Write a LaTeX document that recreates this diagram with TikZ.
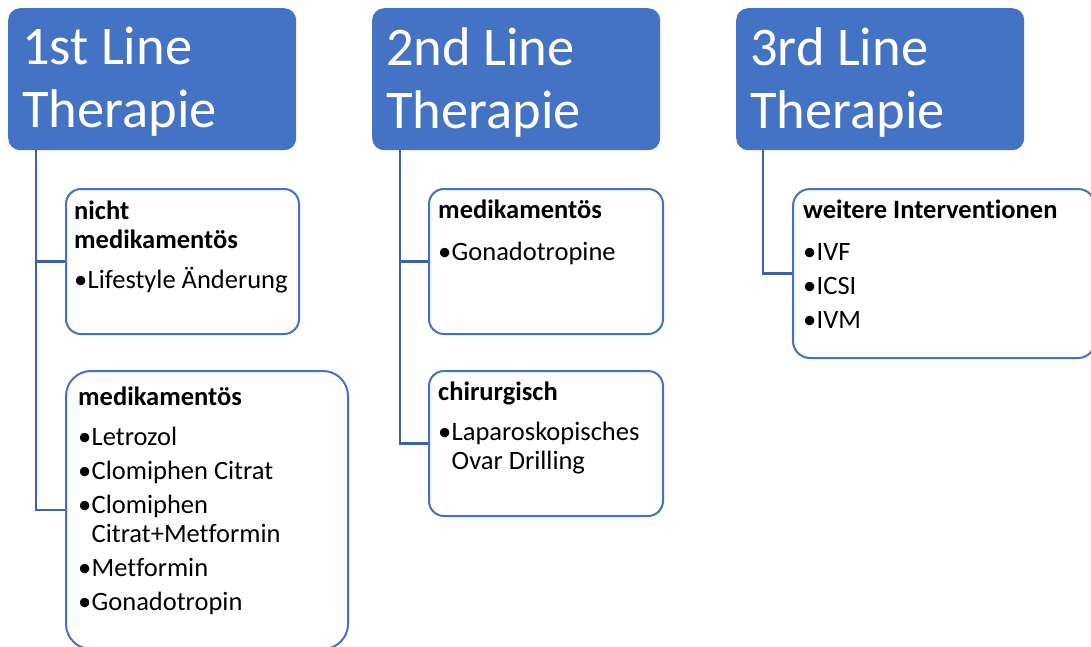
\documentclass[tikz,border=0pt]{standalone}
\usepackage{fontspec}
\setmainfont[Ligatures=NoCommon]{Carlito}
\usetikzlibrary{positioning}
\definecolor{headblue}{HTML}{4472C4}
\definecolor{linkblue}{HTML}{3B62AA}
\newcommand*{\headfont}{\fontsize{54.5}{63}\selectfont}
\newcommand*{\bodyfont}{\fontsize{26.5}{29}\selectfont}
\newcommand*{\bul}{\makebox[13.5pt][l]{\textbullet}}
\newcommand*{\hang}{\hspace*{13.5pt}}
\tikzset{
  head/.style={draw=none, fill=headblue, rounded corners=12pt, anchor=north west,
    inner sep=0pt, minimum width=288pt, minimum height=142pt},
  headtext/.style={anchor=north west, inner sep=0pt, align=left, text=white, font=\headfont},
  leaf/.style={draw=headblue, line width=2pt, fill=white, rounded corners=15pt,
    anchor=north west, inner sep=0pt},
  leaftext/.style={anchor=north west, inner sep=0pt, align=left, font=\bodyfont},
  link/.style={draw=linkblue, line width=2.5pt}
}

\begin{document}
\begin{tikzpicture}[x=1pt, y=-1pt]
    \path [use as bounding box] (0,0) rectangle (1091,646);

    % column headers
    \node [head] (h1) at (8,8) {};
    \node [head] (h2) at (372,8) {};
    \node [head] (h3) at (736,8) {};
    \node [headtext] at (22,27) {1st Line\\Therapie};
    \node [headtext] at (386,27) {2nd Line\\Therapie};
    \node [headtext] at (750,27) {3rd Line\\Therapie};

    % 1st line
    \node [leaf, minimum width=233pt, minimum height=145pt] (a1) at (65,188) {};
    \node [leaf, rounded corners=25pt, minimum width=282pt, minimum height=278pt] (b1) at (65,370) {};
    \node [leaftext] (a1txt) at (74,201)
        {\textbf{nicht}\\\textbf{medikamentös}\\[11pt]\bul Lifestyle Änderung};
    \node [leaftext] (b1txt) at (78,387)
        {\textbf{medikamentös}\\[11pt]\bul Letrozol\\[5pt]\bul Clomiphen Citrat\\[5pt]%
         \bul Clomiphen\\\hang Citrat+Metformin\\[5pt]\bul Metformin\\[5pt]\bul Gonadotropin};

    % 2nd line
    \node [leaf, minimum width=234pt, minimum height=145pt] (a2) at (428,188) {};
    \node [leaf, minimum width=234pt, minimum height=145pt] (b2) at (428,370) {};
    \node [leaftext] (a2txt) at (438,200)
        {\textbf{medikamentös}\\[13pt]\bul Gonadotropine};
    \node [leaftext] (b2txt) at (438,382)
        {\textbf{chirurgisch}\\[11pt]\bul Laparoskopisches\\\hang Ovar Drilling};

    % 3rd line
    \node [leaf, rounded corners=17pt, minimum width=302pt, minimum height=169pt] (a3) at (792,188) {};
    \node [leaftext] (a3txt) at (803,200)
        {\textbf{weitere Interventionen}\\[13pt]\bul IVF\\[5pt]\bul ICSI\\[5pt]\bul IVM};

    % connectors
    \coordinate (t1) at ([xshift=28pt]h1.south west);
    \coordinate (t2) at ([xshift=28pt]h2.south west);
    \coordinate (t3) at ([xshift=27pt]h3.south west);
    \draw [link] (t1) |- (a1.west);
    \draw [link] (t1) |- (b1.west);
    \draw [link] (t2) |- (a2.west);
    \draw [link] (t2) |- (b2.west);
    \draw [link] (t3) |- (a3.west);
\end{tikzpicture}
\end{document}
